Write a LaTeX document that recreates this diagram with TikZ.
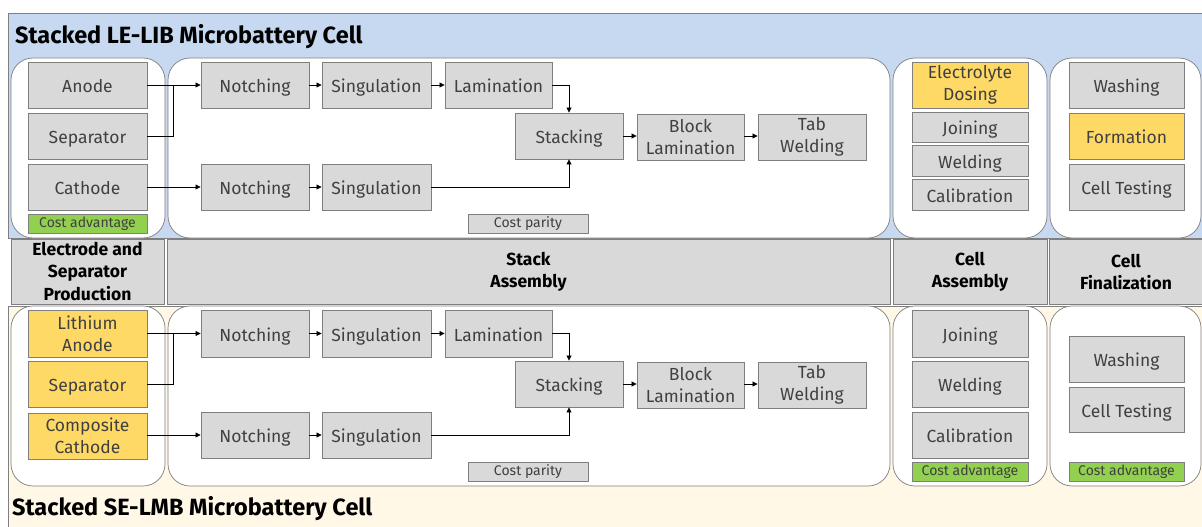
\documentclass[tikz,border=0pt]{standalone}
\usepackage{fontspec}
\setmainfont{Fira Sans}
\usetikzlibrary{arrows.meta}
\definecolor{bluebg}{HTML}{C6D9F0}
\definecolor{creambg}{HTML}{FFF8E6}
\definecolor{boxgray}{HTML}{D9D9D9}
\definecolor{boxline}{HTML}{7F7F7F}
\definecolor{txtgray}{HTML}{404040}
\definecolor{yel}{HTML}{FFD966}
\definecolor{grn}{HTML}{92D050}
\tikzset{
  box/.style={draw=boxline, fill=boxgray, line width=0.9pt, inner sep=0pt, align=center,
    text=txtgray, font=\fontsize{17.5}{22}\selectfont},
  one/.style={text height=15pt, text depth=0pt},
  ybox/.style={box, fill=yel},
  gbox/.style={box, fill=grn, text=black!75, font=\fontsize{14}{16}\selectfont},
  pbox/.style={box, font=\fontsize{14}{16}\selectfont},
  panel/.style={draw=boxline, fill=white, line width=0.7pt, rounded corners=22pt},
  hdr/.style={draw=boxline, fill=boxgray, line width=0.9pt, inner sep=0pt, align=center,
    font=\fontsize{17.5}{22.5}\selectfont\bfseries},
  arr/.style={-{Triangle[length=5pt,width=5pt]}, line width=0.8pt},
  ln/.style={line width=0.8pt},
  ttl/.style={anchor=west, inner sep=0pt, font=\fontsize{23.5}{26}\selectfont\bfseries}
}
\begin{document}
\begin{tikzpicture}[x=1pt,y=-1pt]
\useasboundingbox (0,0) rectangle (1202,527);
% backgrounds
\fill[bluebg, draw=boxline, line width=0.7pt] (8,13) rectangle (1204,238);
\fill[creambg, draw=boxline, line width=0.7pt] (8,306) rectangle (1204,530);
\node[ttl] (t1) at (15,37) {Stacked LE-LIB Microbattery Cell};
\node[ttl] (t2) at (12,509) {Stacked SE-LMB Microbattery Cell};
% panels top
\draw[panel] (11,58) rectangle (165,238);
\draw[panel] (168,58) rectangle (890,238);
\draw[panel] (893,58) rectangle (1047,238);
\draw[panel] (1050,58) rectangle (1201,238);
% panels bottom
\draw[panel] (11,306) rectangle (165,486);
\draw[panel] (168,306) rectangle (890,486);
\draw[panel] (893,306) rectangle (1047,486);
\draw[panel] (1050,306) rectangle (1201,486);
% headers
\node[hdr, minimum width=153pt, minimum height=65pt] (h1) at (87.5,271.5) {Electrode and\\Separator\\Production};
\node[hdr, minimum width=723pt, minimum height=65pt] (h2) at (528.5,272) {Stack\\Assembly};
\node[hdr, minimum width=154pt, minimum height=65pt] (h3) at (970,272) {Cell\\Assembly};
\node[hdr, minimum width=154pt, minimum height=65pt] (h4) at (1126,272) {Cell\\Finalization};
% ---- top row boxes
\node[box, one, minimum width=119pt, minimum height=46pt] (an1) at (87.5,85) {Anode};
\node[box, one, minimum width=119pt, minimum height=46pt] (se1) at (87.5,136) {Separator};
\node[box, one, minimum width=119pt, minimum height=46pt] (ca1) at (87.5,187) {Cathode};
\node[gbox, minimum width=119pt, minimum height=19pt] (cadv1) at (87.5,224) {Cost advantage};
\node[box, one, minimum width=108pt, minimum height=46pt] (no1) at (255,85) {Notching};
\node[box, one, minimum width=109pt, minimum height=46pt] (si1) at (376.5,85) {Singulation};
\node[box, one, minimum width=107pt, minimum height=46pt] (la1) at (498.5,85) {Lamination};
\node[box, one, minimum width=108pt, minimum height=46pt] (st1) at (569,136) {Stacking};
\node[box, minimum width=107pt, minimum height=46pt] (bl1) at (690.5,137) {Block\\Lamination};
\node[box, minimum width=108pt, minimum height=46pt] (tw1) at (812,137) {Tab\\Welding};
\node[box, one, minimum width=108pt, minimum height=46pt] (no2) at (255,187) {Notching};
\node[box, one, minimum width=109pt, minimum height=46pt] (si2) at (376.5,187) {Singulation};
\node[pbox, minimum width=120pt, minimum height=19pt] (cp1) at (528,223.5) {Cost parity};
\node[ybox, minimum width=116pt, minimum height=46pt] (ed1) at (970,85) {Electrolyte\\Dosing};
\node[box, one, minimum width=116pt, minimum height=30pt] (jo1) at (970,127) {Joining};
\node[box, one, minimum width=116pt, minimum height=31pt] (we1) at (970,160.5) {Welding};
\node[box, one, minimum width=116pt, minimum height=31pt] (cl1) at (970,194.5) {Calibration};
\node[box, one, minimum width=115pt, minimum height=46pt] (wa1) at (1126.5,85) {Washing};
\node[ybox, one, minimum width=115pt, minimum height=46pt] (fo1) at (1126.5,136) {Formation};
\node[box, one, minimum width=115pt, minimum height=46pt] (ct1) at (1126.5,187) {Cell Testing};
% top arrows
\coordinate (j1) at (173,85);
\draw[ln] (an1.east) -- (175,85);
\draw[ln] (se1.east) -| (j1);
\draw[arr] (j1) -- (no1.west);
\draw[arr] (ca1.east) -- (no2.west);
\draw[arr] (no1) -- (si1);
\draw[arr] (si1) -- (la1);
\draw[arr] (la1.east) -| (st1.north);
\draw[arr] (no2) -- (si2);
\draw[arr] (si2.east) -| (st1.south);
\draw[arr] (st1) -- (bl1.west |- st1);
\draw[arr] (bl1.east |- st1) -- (tw1.west |- st1);
% ---- bottom row boxes
\node[ybox, minimum width=119pt, minimum height=47pt] (an2) at (87.5,334) {Lithium\\Anode};
\node[ybox, one, minimum width=119pt, minimum height=46pt] (se2) at (87.5,384) {Separator};
\node[ybox, minimum width=119pt, minimum height=46pt] (ca2) at (87.5,436) {Composite\\Cathode};
\node[box, one, minimum width=108pt, minimum height=47pt] (no3) at (255,333.5) {Notching};
\node[box, one, minimum width=109pt, minimum height=47pt] (si3) at (376.5,333.5) {Singulation};
\node[box, one, minimum width=107pt, minimum height=47pt] (la3) at (498.5,333.5) {Lamination};
\node[box, one, minimum width=108pt, minimum height=46pt] (st3) at (569,384) {Stacking};
\node[box, minimum width=107pt, minimum height=46pt] (bl3) at (690.5,385) {Block\\Lamination};
\node[box, minimum width=108pt, minimum height=46pt] (tw3) at (812,385) {Tab\\Welding};
\node[box, one, minimum width=108pt, minimum height=46pt] (no4) at (255,435) {Notching};
\node[box, one, minimum width=109pt, minimum height=46pt] (si4) at (376.5,435) {Singulation};
\node[pbox, minimum width=120pt, minimum height=19pt] (cp2) at (528,471.5) {Cost parity};
\node[box, one, minimum width=116pt, minimum height=47pt] (jo2) at (970,333.5) {Joining};
\node[box, one, minimum width=116pt, minimum height=46pt] (we2) at (970,384) {Welding};
\node[box, one, minimum width=116pt, minimum height=46pt] (cl2) at (970,435) {Calibration};
\node[gbox, minimum width=116pt, minimum height=19pt] (cadv2) at (970,471.5) {Cost advantage};
\node[box, one, minimum width=115pt, minimum height=46pt] (wa2) at (1126.5,359) {Washing};
\node[box, one, minimum width=115pt, minimum height=45pt] (ct2) at (1126.5,409.5) {Cell Testing};
\node[gbox, minimum width=115pt, minimum height=19pt] (cadv3) at (1126.5,471.5) {Cost advantage};
% bottom arrows
\coordinate (j2) at (173,333.5);
\draw[ln] (an2.east |- j2) -- (175,333.5);
\draw[ln] (se2.east) -| (j2);
\draw[arr] (j2) -- (no3.west);
\draw[arr] (ca2.east |- no4) -- (no4.west);
\draw[arr] (no3) -- (si3);
\draw[arr] (si3) -- (la3);
\draw[arr] (la3.east) -| (st3.north);
\draw[arr] (no4) -- (si4);
\draw[arr] (si4.east) -| (st3.south);
\draw[arr] (st3) -- (bl3.west |- st3);
\draw[arr] (bl3.east |- st3) -- (tw3.west |- st3);
\end{tikzpicture}
\end{document}
